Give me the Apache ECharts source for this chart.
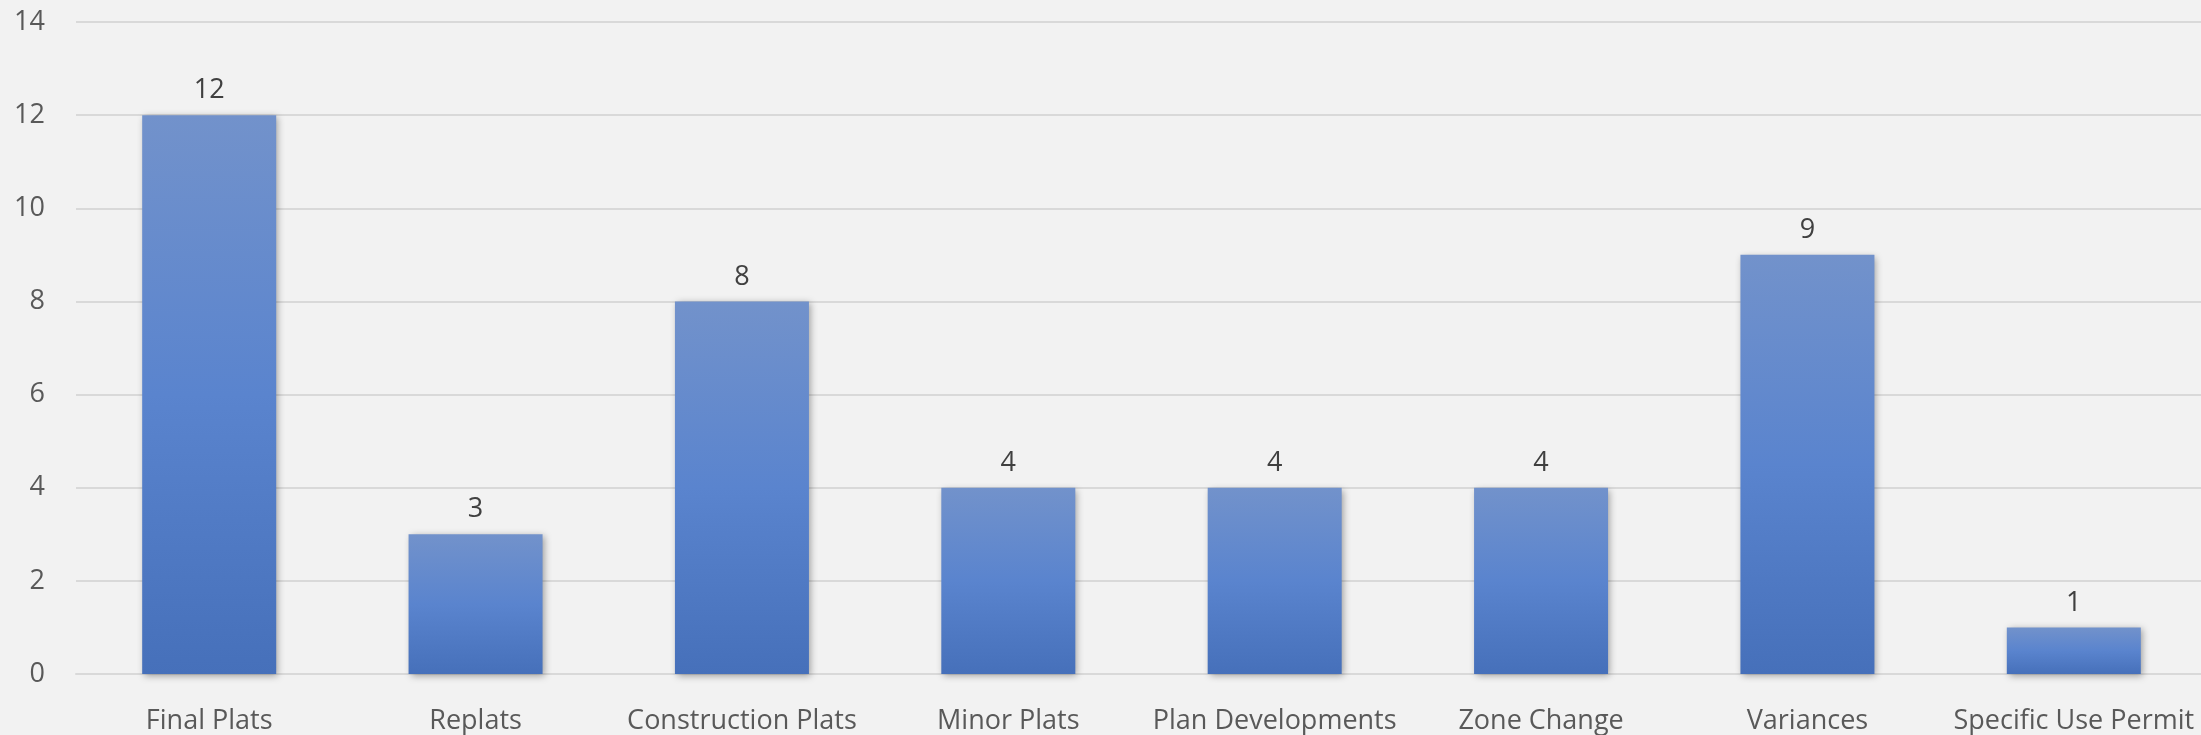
<!DOCTYPE html>
<html>
<head>
<meta charset="utf-8">
<script src="https://cdn.jsdelivr.net/npm/echarts@6/dist/echarts.min.js"></script>
<style>
html,body{margin:0;padding:0;background:#F2F2F2;overflow:hidden;}
#c{width:2207px;height:735px;}
</style>
</head>
<body>
<div id="c"></div>
<script>
var categories = ["Final Plats","Replats","Construction Plats","Minor Plats","Plan Developments","Zone Change","Variances","Specific Use Permit"];
var values = [12,3,8,4,4,4,9,1];
var yTicks = [0,2,4,6,8,10,12,14];

var chart = echarts.init(document.getElementById('c'));
var font = '"Open Sans", "Noto Sans", sans-serif';
chart.setOption({
  backgroundColor: '#F2F2F2',
  animation: false,
  grid: {left: 76, right: 0, top: 22, bottom: 57, containLabel: false},
  xAxis: {
    type: 'category',
    data: categories,
    axisLine: {show: true, lineStyle: {color: '#D9D9D9', width: 2}},
    axisTick: {show: false},
    axisLabel: {color: '#595959', fontSize: 27, fontFamily: font, margin: 34, interval: 0}
  },
  yAxis: {
    type: 'value',
    min: yTicks[0],
    max: yTicks[yTicks.length-1],
    interval: 2,
    axisLine: {show: false},
    axisTick: {show: false},
    splitLine: {lineStyle: {color: '#D9D9D9', width: 2}},
    axisLabel: {color: '#595959', fontSize: 27, fontFamily: font, margin: 31}
  },
  series: [{
    type: 'bar',
    data: values,
    barWidth: 134,
    itemStyle: {
      color: new echarts.graphic.LinearGradient(0,0,0,1,[
        {offset:0,color:'#7292CB'},
        {offset:0.5,color:'#5A84CE'},
        {offset:1,color:'#4670BA'}
      ]),
      shadowColor: 'rgba(0,0,0,0.35)',
      shadowBlur: 7,
      shadowOffsetX: 2,
      shadowOffsetY: 2
    },
    label: {show: true, position: 'top', distance: 11, color: '#404040', fontSize: 27, fontFamily: font}
  }]
});
</script>
</body>
</html>
